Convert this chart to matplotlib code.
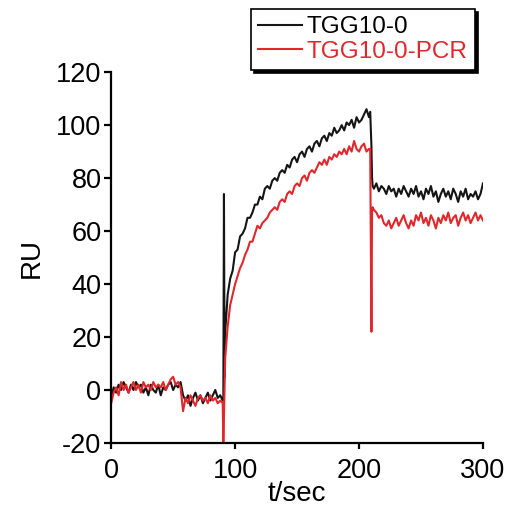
import numpy as np
import matplotlib
matplotlib.use('Agg')
import matplotlib.pyplot as plt

plt.rcParams['font.family'] = ['Liberation Sans', 'DejaVu Sans']
plt.rcParams['axes.unicode_minus'] = False

# time grid (s): 2 s steps plus a few extra samples around the injection / dissociation spikes
time = np.concatenate([
    np.arange(0, 91, 2),          # 0..90
    [90.5, 91, 91.5],
    np.arange(92, 209, 2),        # 92..208
    [209, 210, 210.5, 211],
    np.arange(212, 301, 2),       # 212..300
])

labels = ['TGG10-0', 'TGG10-0-PCR']

# TGG10-0 (black)
ru_black = [
    -3, 1, -1, 2, 0, 3, 1, -1, 2, 0,
    3, 1, 2, -1, 1, -2, 2, 0, -1, 2,
    -2, 1, 0, 2, 3, 0, 2, 1, 3, -2,
    -4, -2, -6, -3, -1, -4, -2, -5, -3, -1,
    -4, -2, 0, -3, -2, -4,
    -4, 74, 5,
    22, 36, 42, 45, 52, 53, 58, 59, 61, 65,
    65, 67, 70, 70, 73, 72, 76, 77, 76, 79,
    80, 79, 82, 83, 82, 85, 84, 87, 88, 86,
    89, 90, 88, 91, 92, 90, 93, 94, 92, 95,
    96, 94, 97, 96, 99, 97, 98, 100, 98, 101,
    100, 102, 99, 103, 101, 102, 104, 106, 103,
    105, 92, 80, 77,
    76, 78, 75, 77, 76, 74, 77, 75, 76, 73,
    76, 74, 77, 75, 73, 76, 74, 77, 73, 75,
    72, 76, 74, 77, 73, 75, 71, 74, 76, 73,
    75, 72, 76, 74, 71, 75, 73, 76, 72, 74,
    73, 75, 72, 74, 78,
]

# TGG10-0-PCR (red)
ru_red = [
    -5, -1, 1, -2, 3, 0, 2, -1, 1, 3,
    0, 2, -1, 3, 1, 2, 0, 3, 1, 2,
    1, 3, 0, 2, 4, 5, 2, 3, 1, -8,
    -3, -5, -2, -4, -6, -3, -2, -4, -3, -5,
    -2, -4, -3, -5, -4, -5,
    -20, -10, 2,
    12, 24, 32, 36, 40, 43, 46, 48, 51, 53,
    56, 56, 59, 62, 61, 63, 64, 65, 67, 68,
    69, 68, 71, 72, 71, 74, 75, 74, 77, 78,
    77, 80, 81, 79, 82, 83, 82, 84, 86, 85,
    87, 85, 88, 87, 89, 88, 90, 89, 91, 89,
    92, 90, 94, 91, 90, 92, 93, 90, 91,
    91, 22, 68, 69,
    68, 67, 65, 66, 63, 62, 64, 61, 63, 65,
    62, 64, 66, 63, 61, 64, 62, 66, 64, 67,
    63, 65, 62, 66, 64, 61, 65, 63, 66, 64,
    67, 63, 65, 66, 62, 65, 67, 64, 66, 63,
    65, 67, 64, 66, 64,
]

x_ticks = [0, 100, 200, 300]
y_ticks = [-20, 0, 20, 40, 60, 80, 100, 120]

black = '#151515'
red = '#e0282c'

fig = plt.figure(figsize=(5.1, 5.08), dpi=100)
ax = fig.add_axes([0.218, 0.128, 0.729, 0.730])

ax.plot(time, ru_black, color=black, lw=1.5, label=labels[0])
ax.plot(time, ru_red, color=red, lw=1.5, label=labels[1])

ax.set_xlim(0, 300)
ax.set_ylim(-20, 120)
ax.set_xticks(x_ticks)
ax.set_yticks(y_ticks)
for side in ['top', 'right']:
    ax.spines[side].set_visible(False)
for side in ['left', 'bottom']:
    ax.spines[side].set_linewidth(1.6)
ax.tick_params(axis='y', length=5, width=1.6, pad=2, labelsize=19.5)
ax.tick_params(axis='x', length=4, width=1.6, pad=7, labelsize=19.5)
ax.set_xlabel('t/sec', fontsize=20, labelpad=-2)
ax.set_ylabel('RU', fontsize=20, labelpad=8)

leg = fig.legend(loc='upper left', bbox_to_anchor=(0.492, 0.982), fontsize=17.5,
                 frameon=True, fancybox=False, shadow={'color': 'black', 'alpha': 1},
                 handlelength=1.8, handletextpad=0.2, borderpad=0.3,
                 labelspacing=0.1, borderaxespad=0)
leg.get_frame().set_edgecolor('black')
leg.get_frame().set_linewidth(1.2)
leg.get_frame().set_alpha(1)
leg.get_texts()[1].set_color(red)

plt.savefig('out.png', dpi=100)
